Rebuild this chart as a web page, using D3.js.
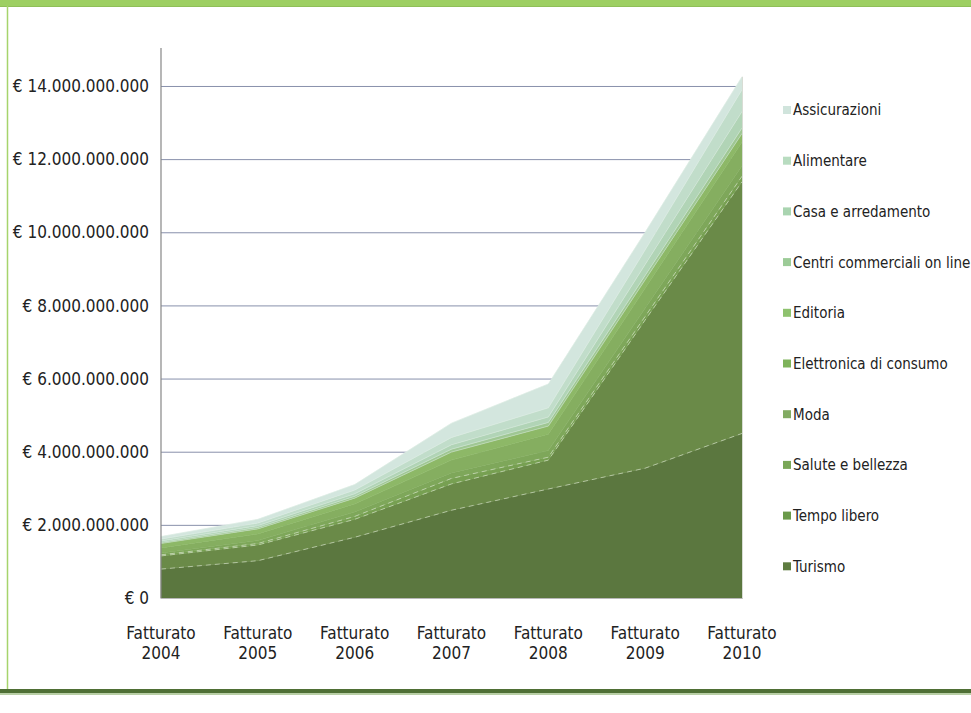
<!DOCTYPE html>
<html>
<head>
<meta charset="utf-8">
<script src="https://cdn.jsdelivr.net/npm/d3@7"></script>
<style>
  body { margin: 0; background: #fff; }
  text { font-family: "DejaVu Sans Condensed", "Liberation Sans Narrow", sans-serif; fill: #222; }
</style>
</head>
<body>
<script>
// values in billions of euro
var years = ["2004", "2005", "2006", "2007", "2008", "2009", "2010"];
var series = ["Turismo", "Tempo libero", "Salute e bellezza", "Moda", "Elettronica di consumo",
              "Editoria", "Centri commerciali on line", "Casa e arredamento", "Alimentare", "Assicurazioni"];

var turismo      = [0.79, 1.02, 1.66, 2.40, 2.98, 3.55, 4.50];
var tempoLibero  = [0.36, 0.43, 0.49, 0.72, 0.79, 4.05, 6.88];
var salute       = [0.03, 0.04, 0.08, 0.15, 0.08, 0.10, 0.15];
var moda         = [0.05, 0.08, 0.12, 0.15, 0.18, 0.22, 0.28];
var elettronica  = [0.14, 0.18, 0.22, 0.35, 0.45, 0.55, 0.65];
var editoria     = [0.12, 0.14, 0.16, 0.22, 0.22, 0.23, 0.24];
var centri       = [0.03, 0.04, 0.05, 0.08, 0.10, 0.12, 0.15];
var casa         = [0.04, 0.05, 0.07, 0.12, 0.15, 0.30, 0.45];
var alimentare   = [0.05, 0.07, 0.10, 0.20, 0.25, 0.40, 0.60];
var assicurazioni= [0.07, 0.10, 0.15, 0.39, 0.65, 0.48, 0.35];

var yTicks = [0, 2e9, 4e9, 6e9, 8e9, 10e9, 12e9, 14e9];

var values = [turismo, tempoLibero, salute, moda, elettronica, editoria, centri, casa, alimentare, assicurazioni];
var colors = ["#5b773f", "#6a8a48", "#77a052", "#7ea75a", "#85ae60", "#8db867",
              "#9fc793", "#b1d4b6", "#c1ddca", "#d3e6de"];
var legendColors = ["#5e7c40", "#6a9a4a", "#79a757", "#82ab62", "#7eb35a", "#8ec26e",
                    "#9ccb97", "#a9d4b0", "#b8dcc0", "#d0e4dc"];

var table = years.map(function (yr, i) {
    var row = { year: yr };
    series.forEach(function (s, k) { row[s] = values[k][i] * 1e9; });
    return row;
});

var width = 971, height = 713;

var svg = d3.select("body").append("svg")
    .attr("width", width)
    .attr("height", height);

// frame
svg.append("rect").attr("x", 0).attr("y", 0).attr("width", width).attr("height", 6).attr("fill", "#9dcf62");
svg.append("line").attr("x1", 0).attr("x2", width).attr("y1", 6.5).attr("y2", 6.5).attr("stroke", "#8fbf58");
svg.append("line").attr("x1", 7.5).attr("x2", 7.5).attr("y1", 6).attr("y2", 690).attr("stroke", "#a6d46c").attr("stroke-width", 1.5);
svg.append("rect").attr("x", 0).attr("y", 689).attr("width", width).attr("height", 4).attr("fill", "#4f6f35");
svg.append("rect").attr("x", 0).attr("y", 693).attr("width", width).attr("height", 2).attr("fill", "#b9cfa6");

var x = d3.scalePoint().domain(years).range([161, 742]);
var y = d3.scaleLinear().domain([0, 15e9]).range([598, 49.4]);

var locale = d3.formatLocale({ decimal: ",", thousands: ".", grouping: [3], currency: ["€ ", ""] });
var fmt = locale.format("$,.0f");

// gridlines
svg.append("g")
    .attr("transform", "translate(161,0)")
    .call(d3.axisRight(y).tickValues(yTicks.slice(1)).tickSize(742 - 161).tickFormat(""))
    .call(function (g) {
        g.select(".domain").remove();
        g.selectAll("line").attr("stroke", "#8890ab").attr("stroke-width", 1);
    });

var stack = d3.stack().keys(series);
var layers = stack(table);

var area = d3.area()
    .x(function (d) { return x(d.data.year); })
    .y0(function (d) { return y(d[0]); })
    .y1(function (d) { return y(d[1]); });

svg.append("g").selectAll("path")
    .data(layers)
    .enter().append("path")
    .attr("d", area)
    .attr("fill", function (d, i) { return colors[i]; })
    .attr("stroke", function (d, i) { return colors[i]; })
    .attr("stroke-width", 0.5);

// light dashed edges on the lower layers
var topLine = d3.line()
    .x(function (d) { return x(d.data.year); })
    .y(function (d) { return y(d[1]); });

svg.append("g").selectAll("path")
    .data(layers.slice(0, 3))
    .enter().append("path")
    .attr("d", topLine)
    .attr("fill", "none")
    .attr("stroke", "#dfe9d6")
    .attr("stroke-opacity", 0.6)
    .attr("stroke-width", 1)
    .attr("stroke-dasharray", "5,4");

// faint edges on the lighter layers
svg.append("g").selectAll("path")
    .data(layers.slice(5))
    .enter().append("path")
    .attr("d", topLine)
    .attr("fill", "none")
    .attr("stroke", "#e4efe6")
    .attr("stroke-opacity", 0.5)
    .attr("stroke-width", 0.8);

// axes lines
svg.append("line").attr("x1", 161).attr("x2", 161).attr("y1", 48).attr("y2", 598.5)
    .attr("stroke", "#868686").attr("stroke-width", 1.2);
svg.append("line").attr("x1", 161).attr("x2", 743).attr("y1", 598.5).attr("y2", 598.5)
    .attr("stroke", "#b8b8b8").attr("stroke-width", 1);
svg.append("line").attr("x1", 742.5).attr("x2", 742.5).attr("y1", y(14.25e9)).attr("y2", 598.5)
    .attr("stroke", "#d8dcd4").attr("stroke-width", 1);

// y labels
svg.append("g").selectAll("text")
    .data(yTicks)
    .enter().append("text")
    .attr("x", 149)
    .attr("y", function (d) { return y(d); })
    .attr("dy", "0.36em")
    .attr("text-anchor", "end")
    .attr("font-size", 17)
    .text(function (d) { return fmt(d); });

// x labels
var xl = svg.append("g").selectAll("text")
    .data(years)
    .enter().append("text")
    .attr("text-anchor", "middle")
    .attr("font-size", 17)
    .attr("x", function (d) { return x(d); })
    .attr("y", 639);
xl.append("tspan").attr("x", function (d) { return x(d); }).text("Fatturato");
xl.append("tspan").attr("x", function (d) { return x(d); }).attr("dy", 20).text(function (d) { return d; });

// legend, top entry is the top layer
var legendItems = series.slice().reverse();
var lg = svg.append("g").selectAll("g")
    .data(legendItems)
    .enter().append("g")
    .attr("transform", function (d, i) { return "translate(783," + (110 + i * 50.7) + ")"; });
lg.append("rect")
    .attr("x", 0).attr("y", -4).attr("width", 8).attr("height", 8)
    .attr("fill", function (d) { return legendColors[series.indexOf(d)]; });
lg.append("text")
    .attr("x", 10).attr("dy", "0.36em")
    .attr("font-size", 15)
    .text(function (d) { return d; });
</script>
</body>
</html>
